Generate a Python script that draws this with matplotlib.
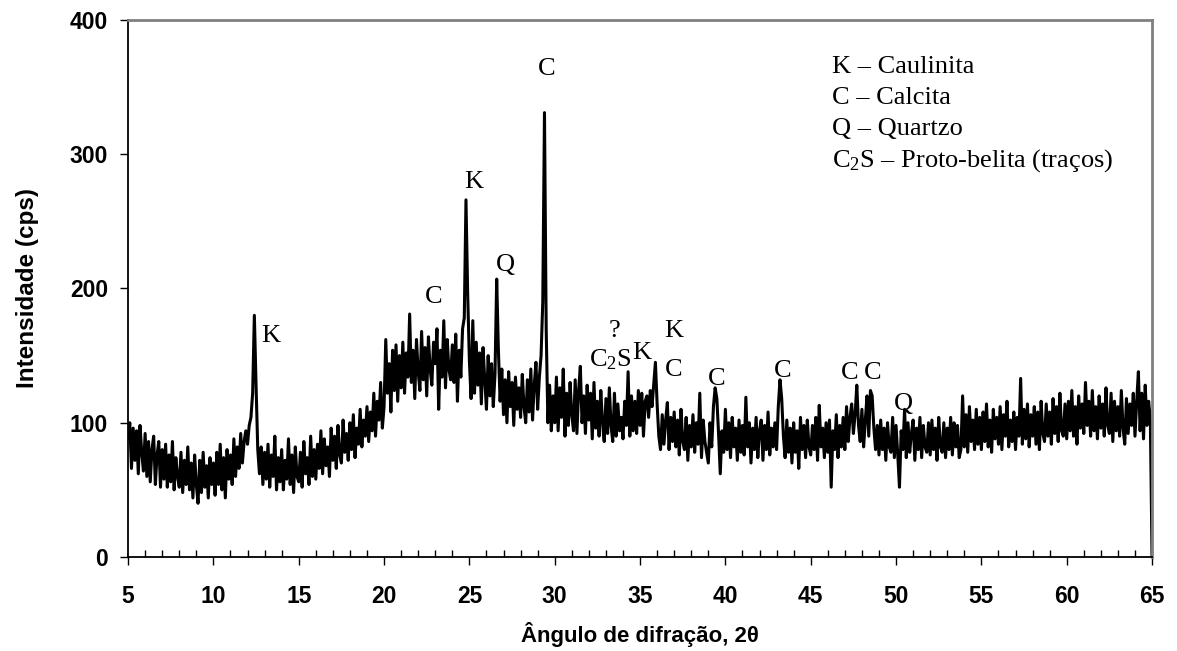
import numpy as np
import matplotlib.pyplot as plt
from matplotlib.ticker import MultipleLocator

# leitura do difratograma, passo de 0.1 grau (2theta de 5 a 65)
i_05_10 = [88, 100, 66, 96, 72, 94, 62, 98, 78, 64,
           92, 60, 86, 56, 80, 90, 54, 76, 86, 52,
           80, 58, 84, 52, 76, 56, 86, 50, 74, 60,
           52, 78, 48, 72, 54, 82, 50, 70, 44, 76,
           54, 40, 72, 48, 78, 52, 68, 44, 74, 54]
i_10_15 = [70, 46, 78, 54, 84, 50, 74, 44, 80, 58,
           76, 54, 88, 60, 82, 66, 92, 70, 86, 94,
           84, 98, 104, 122, 180, 128, 80, 62, 82, 54,
           78, 58, 84, 52, 76, 60, 90, 50, 74, 56,
           80, 50, 72, 58, 88, 54, 76, 48, 82, 60]
i_15_20 = [56, 78, 52, 86, 62, 74, 54, 90, 60, 80,
           58, 84, 66, 94, 62, 88, 68, 82, 60, 96,
           72, 90, 66, 98, 76, 70, 102, 78, 92, 72,
           100, 80, 106, 74, 96, 84, 110, 82, 102, 90,
           112, 86, 108, 94, 122, 90, 116, 102, 130, 96]
i_20_25 = [112, 162, 122, 144, 108, 154, 124, 158, 116, 150,
           126, 160, 122, 152, 134, 181, 130, 154, 118, 162,
           138, 124, 168, 132, 156, 120, 164, 140, 128, 160,
           144, 170, 110, 154, 134, 176, 126, 162, 140, 132,
           158, 130, 166, 116, 154, 134, 170, 178, 266, 196]
i_25_30 = [146, 118, 176, 122, 160, 128, 152, 114, 156, 132,
           110, 150, 120, 144, 112, 136, 207, 154, 116, 140,
           106, 132, 100, 138, 112, 130, 98, 134, 110, 126,
           104, 136, 112, 100, 132, 108, 140, 102, 128, 145,
           110, 134, 150, 190, 331, 170, 100, 128, 94, 120]
i_30_35 = [100, 134, 94, 126, 104, 140, 90, 122, 98, 130,
           106, 94, 132, 92, 124, 142, 100, 120, 92, 128,
           102, 122, 88, 130, 96, 116, 90, 124, 100, 86,
           118, 92, 126, 98, 86, 122, 90, 114, 94, 104,
           88, 116, 98, 138, 90, 120, 94, 116, 92, 124]
i_35_40 = [98, 122, 90, 116, 120, 104, 124, 112, 128, 145,
           114, 90, 80, 106, 84, 102, 115, 80, 104, 86,
           108, 82, 102, 76, 110, 86, 80, 104, 72, 98,
           82, 106, 78, 100, 84, 122, 74, 102, 86, 78,
           70, 100, 82, 112, 126, 118, 92, 62, 94, 78]
i_40_45 = [110, 80, 100, 74, 104, 82, 96, 72, 102, 78,
           98, 76, 119, 82, 100, 70, 96, 80, 104, 74,
           94, 102, 72, 98, 80, 108, 76, 96, 82, 100,
           80, 112, 132, 118, 90, 74, 102, 78, 96, 70,
           100, 78, 94, 66, 104, 80, 98, 74, 102, 82]
i_45_50 = [76, 98, 80, 104, 72, 113, 82, 96, 74, 100,
           78, 102, 52, 94, 80, 106, 74, 98, 82, 104,
           80, 112, 86, 104, 114, 92, 106, 128, 98, 86,
           110, 82, 102, 120, 90, 124, 120, 96, 80, 98,
           76, 102, 80, 96, 72, 100, 82, 78, 104, 74]
i_50_55 = [98, 76, 52, 94, 80, 110, 74, 100, 78, 92,
           102, 72, 96, 80, 104, 74, 98, 82, 78, 100,
           76, 102, 80, 96, 72, 104, 82, 78, 100, 74,
           96, 80, 104, 76, 100, 82, 98, 74, 80, 120,
           82, 106, 78, 112, 86, 102, 80, 110, 84, 104]
i_55_60 = [80, 108, 86, 114, 82, 102, 78, 110, 88, 104,
           84, 112, 80, 106, 90, 116, 82, 102, 86, 108,
           80, 104, 90, 133, 84, 110, 88, 114, 82, 106,
           90, 112, 84, 108, 80, 116, 92, 86, 114, 90,
           108, 84, 118, 92, 112, 86, 122, 94, 90, 114]
i_60_65 = [88, 116, 94, 124, 90, 112, 84, 120, 96, 114,
           92, 130, 98, 116, 90, 124, 94, 112, 88, 120,
           96, 114, 90, 126, 98, 92, 122, 86, 116, 94,
           112, 90, 124, 96, 84, 118, 92, 114, 98, 122,
           90, 116, 138, 94, 122, 88, 128, 98, 116, 102,
           0]

intensidade = np.array(i_05_10 + i_10_15 + i_15_20 + i_20_25 + i_25_30 + i_30_35
                       + i_35_40 + i_40_45 + i_45_50 + i_50_55 + i_55_60 + i_60_65)
dois_theta = np.round(5 + 0.1 * np.arange(len(intensidade)), 1)

# identificacao dos picos (posicao da linha de base do texto)
picos_txt = ['K', 'C', 'K', 'Q', 'C', '?', 'C$_2$S', 'K', 'K', 'C', 'C', 'C', 'C', 'C', 'Q']
picos_x = [13.38, 22.89, 25.23, 27.13, 29.53, 33.53, 33.24, 35.09, 37.0, 36.95,
           39.49, 43.35, 47.3, 48.63, 50.46]
picos_y = [160.4, 189.0, 274.6, 213.3, 359.0, 164.1, 142.3, 147.3, 164.1, 134.8,
           128.1, 134.3, 132.4, 132.4, 109.5]

legenda = ['K – Caulinita', 'C – Calcita', 'Q – Quartzo', 'C$_2$S – Proto-belita (traços)']

plt.rcParams['mathtext.fontset'] = 'custom'
plt.rcParams['mathtext.rm'] = 'Liberation Serif'
plt.rcParams['mathtext.it'] = 'Liberation Serif'

fig = plt.figure(figsize=(11.77, 6.51), dpi=100)
ax = fig.add_axes([0.1088, 0.1444, 0.87, 0.8249])

ax.plot(dois_theta, intensidade, color='black', lw=2.2)

ax.set_xlim(5, 65)
ax.set_ylim(0, 400)
ax.xaxis.set_major_locator(MultipleLocator(5))
ax.xaxis.set_minor_locator(MultipleLocator(1))
ax.yaxis.set_major_locator(MultipleLocator(100))
ax.tick_params(axis='x', which='major', direction='out', length=6, width=1, pad=14)
ax.tick_params(axis='x', which='minor', direction='in', length=5, width=1)
ax.tick_params(axis='y', which='major', direction='out', length=6, width=1, pad=8.5)

for lab in ax.get_xticklabels() + ax.get_yticklabels():
    lab.set_fontfamily('Liberation Sans')
    lab.set_fontweight('bold')
    lab.set_fontsize(16.5)

ax.spines['left'].set_color('black')
ax.spines['bottom'].set_color('black')
ax.spines['left'].set_linewidth(1.3)
ax.spines['bottom'].set_linewidth(1.3)
ax.spines['top'].set_color('#808080')
ax.spines['right'].set_color('#808080')
ax.spines['top'].set_linewidth(2)
ax.spines['right'].set_linewidth(2)

ax.set_xlabel('Ângulo de difração, 2θ', fontfamily='Liberation Sans',
              fontweight='bold', fontsize=16, labelpad=10)
ax.set_ylabel('Intensidade (cps)', fontfamily='Liberation Sans',
              fontweight='bold', fontsize=17.5, labelpad=22)

for t, px, py in zip(picos_txt, picos_x, picos_y):
    ax.text(px, py, t, fontfamily='Liberation Serif', fontsize=19,
            ha='center', va='baseline')

for k, t in enumerate(legenda):
    ax.text(46.22, 360.3 - k * 23.1, t, fontfamily='Liberation Serif', fontsize=19,
            ha='left', va='baseline')

fig.savefig('out.png', dpi=100)
